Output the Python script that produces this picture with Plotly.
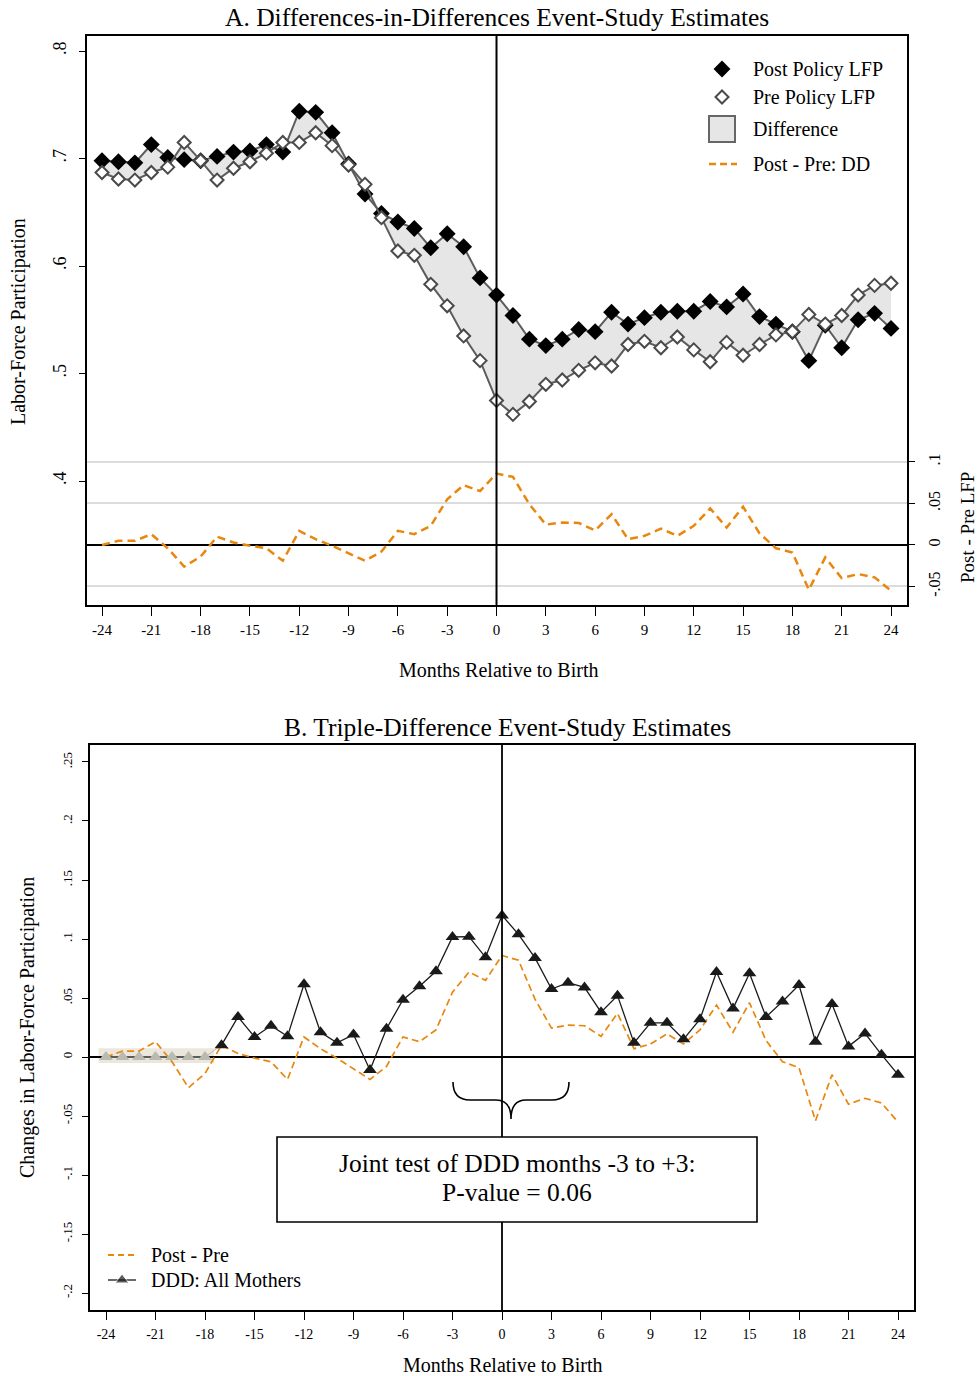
import plotly.graph_objects as go

# ---------------- data ----------------
months = list(range(-24, 25))
month_ticks = list(range(-24, 25, 3))
month_tick_text = [str(m) for m in month_ticks]

post_lfp = [0.698, 0.697, 0.696, 0.713, 0.701, 0.699, 0.698, 0.702, 0.706, 0.707,
            0.713, 0.706, 0.744, 0.743, 0.724, 0.695, 0.667, 0.649, 0.641, 0.635,
            0.617, 0.630, 0.618, 0.589,
            0.573, 0.554, 0.532, 0.526, 0.532, 0.541, 0.539, 0.557, 0.546, 0.552,
            0.557, 0.558, 0.558, 0.567, 0.562, 0.574, 0.553, 0.546, 0.539, 0.512,
            0.545, 0.524, 0.550, 0.556, 0.542]

pre_lfp = [0.687, 0.681, 0.680, 0.687, 0.692, 0.715, 0.698, 0.680, 0.691, 0.697,
           0.705, 0.715, 0.715, 0.724, 0.712, 0.694, 0.676, 0.645, 0.614, 0.610,
           0.583, 0.563, 0.535, 0.512,
           0.475, 0.462, 0.474, 0.490, 0.494, 0.503, 0.510, 0.507, 0.527, 0.530,
           0.524, 0.534, 0.522, 0.511, 0.529, 0.517, 0.527, 0.536, 0.539, 0.555,
           0.546, 0.554, 0.573, 0.582, 0.584]

dd = [0.000, 0.005, 0.005, 0.013, -0.004, -0.026, -0.014, 0.010, 0.003, -0.001,
      -0.004, -0.019, 0.017, 0.007, -0.001, -0.010, -0.019, -0.008, 0.017, 0.013,
      0.023, 0.055, 0.072, 0.065,
      0.086, 0.082, 0.049, 0.0245, 0.027, 0.0265, 0.0175, 0.037, 0.007, 0.011,
      0.0196, 0.011, 0.023, 0.044, 0.021, 0.046, 0.014, -0.004, -0.009, -0.054,
      -0.015, -0.040, -0.035, -0.039, -0.055]

ddd = [0.0, 0.0, 0.0, 0.0, 0.0, 0.0, 0.0, 0.010, 0.034, 0.017,
       0.0265, 0.0175, 0.0616, 0.021, 0.012, 0.019, -0.011, 0.024, 0.0486, 0.060,
       0.0726, 0.1017, 0.102, 0.0845,
       0.120, 0.104, 0.084, 0.0576, 0.063, 0.059, 0.038, 0.052, 0.012, 0.029,
       0.029, 0.015, 0.032, 0.072, 0.041, 0.071, 0.034, 0.047, 0.061, 0.013,
       0.045, 0.009, 0.020, 0.002, -0.015]

n_ref = 7  # reference months (-24..-18) normalised to zero

yA_vals = [0.4, 0.5, 0.6, 0.7, 0.8]
yA_text = [".4", ".5", ".6", ".7", ".8"]
yA2_vals = [-0.05, 0, 0.05, 0.1]
yA2_text = ["-.05", "0", ".05", ".1"]
yB_vals = [-0.2, -0.15, -0.1, -0.05, 0, 0.05, 0.1, 0.15, 0.2, 0.25]
yB_text = ["-.2", "-.15", "-.1", "-.05", "0", ".05", ".1", ".15", ".2", ".25"]

# ---------------- style ----------------
W, H = 977, 1376
FONT = "Liberation Serif, Times New Roman, serif"
ORANGE = "#E8870E"
GRAY_LINE = "#5c5c5c"

def px_x(p):
    return p / W

def px_y(p):
    return 1 - p / H

fig = go.Figure()

# ---- Panel A ----
fig.add_trace(go.Scatter(x=months, y=pre_lfp, mode="lines", line=dict(width=0),
                         showlegend=False, hoverinfo="skip", xaxis="x", yaxis="y"))
fig.add_trace(go.Scatter(x=months, y=post_lfp, mode="lines", line=dict(width=0),
                         fill="tonexty", fillcolor="#e6e6e6",
                         showlegend=False, hoverinfo="skip", xaxis="x", yaxis="y"))
fig.add_trace(go.Scatter(x=months, y=post_lfp, mode="lines+markers",
                         line=dict(color=GRAY_LINE, width=2),
                         marker=dict(symbol="diamond", size=13, color="black",
                                     line=dict(width=0)),
                         showlegend=False, xaxis="x", yaxis="y"))
fig.add_trace(go.Scatter(x=months, y=pre_lfp, mode="lines+markers",
                         line=dict(color=GRAY_LINE, width=2),
                         marker=dict(symbol="diamond", size=10, color="white",
                                     line=dict(width=2, color="#4a4a4a")),
                         showlegend=False, xaxis="x", yaxis="y"))
fig.add_trace(go.Scatter(x=months, y=dd, mode="lines",
                         line=dict(color=ORANGE, width=2.5, dash="8px,5px"),
                         showlegend=False, xaxis="x", yaxis="y2"))

# ---- Panel B ----
fig.add_trace(go.Scatter(x=months, y=dd, mode="lines",
                         line=dict(color=ORANGE, width=1.7, dash="7px,4px"),
                         showlegend=False, xaxis="x2", yaxis="y3"))
fig.add_trace(go.Scatter(x=months[:n_ref + 1], y=ddd[:n_ref + 1], mode="lines+markers",
                         line=dict(color="#b8b8b0", width=1),
                         marker=dict(symbol="triangle-up", size=12,
                                     color=["#b9bab0"] * n_ref + ["rgba(0,0,0,0)"]),
                         showlegend=False, xaxis="x2", yaxis="y3"))
fig.add_trace(go.Scatter(x=months[n_ref:], y=ddd[n_ref:], mode="lines+markers",
                         line=dict(color="#1a1a1a", width=1.3),
                         marker=dict(symbol="triangle-up", size=12, color="#1a1a1a"),
                         showlegend=False, xaxis="x2", yaxis="y3"))

# ---- legend symbols on a full-page pixel overlay axis ----
fig.add_trace(go.Scatter(x=[722], y=[69], mode="markers",
                         marker=dict(symbol="diamond", size=13, color="black"),
                         showlegend=False, xaxis="x3", yaxis="y4"))
fig.add_trace(go.Scatter(x=[722], y=[97], mode="markers",
                         marker=dict(symbol="diamond", size=10, color="white",
                                     line=dict(width=2, color="#4a4a4a")),
                         showlegend=False, xaxis="x3", yaxis="y4"))
fig.add_trace(go.Scatter(x=[108, 122, 136], y=[1280, 1280, 1280], mode="lines+markers",
                         line=dict(color="#1a1a1a", width=1.3),
                         marker=dict(symbol="triangle-up", size=[0, 12, 0], color="#1a1a1a"),
                         showlegend=False, xaxis="x3", yaxis="y4"))

axis_common = dict(showgrid=False, zeroline=False, ticks="outside", tickcolor="black",
                   showline=True, linecolor="black", linewidth=1.5, mirror=True,
                   automargin=False, tickfont=dict(family=FONT, color="black"))

fig.update_layout(
    width=W, height=H, margin=dict(l=0, r=0, t=0, b=0),
    paper_bgcolor="white", plot_bgcolor="rgba(0,0,0,0)",
    template="none", showlegend=False,
    font=dict(family=FONT, color="black"),
    xaxis=dict(axis_common, domain=[px_x(87), px_x(907)], anchor="y",
               range=[-24.913, 24.973], tickvals=month_ticks, ticktext=month_tick_text,
               ticklen=9, ticklabelstandoff=1,
               tickfont=dict(family=FONT, size=15, color="black")),
    yaxis=dict(axis_common, domain=[px_y(605), px_y(36)], anchor="x",
               range=[0.2847, 0.814], tickvals=yA_vals, ticktext=yA_text,
               tickangle=-90, ticklen=6, ticklabelstandoff=6,
               tickfont=dict(family=FONT, size=18, color="black")),
    yaxis2=dict(overlaying="y", side="right", anchor="x", range=[-0.0723, 0.613],
                tickvals=yA2_vals, ticktext=yA2_text, tickangle=-90,
                ticks="outside", ticklen=7, tickcolor="black", showline=False,
                showgrid=True, gridcolor="#dcdcdc", gridwidth=2,
                zeroline=True, zerolinecolor="black", zerolinewidth=1.5,
                automargin=False, ticklabelstandoff=6,
                tickfont=dict(family=FONT, size=16, color="black")),
    xaxis2=dict(axis_common, domain=[px_x(90), px_x(914)], anchor="y3",
                range=[-24.97, 24.97], tickvals=month_ticks, ticktext=month_tick_text,
                ticklen=8, ticklabelstandoff=2,
                tickfont=dict(family=FONT, size=14, color="black")),
    yaxis3=dict(axis_common, domain=[px_y(1310), px_y(745)], anchor="x2",
                range=[-0.2144, 0.2644], tickvals=yB_vals, ticktext=yB_text,
                tickangle=-90, ticklen=6, ticklabelstandoff=5,
                zeroline=True, zerolinecolor="black", zerolinewidth=1.8,
                tickfont=dict(family=FONT, size=13, color="black")),
    xaxis3=dict(domain=[0, 1], range=[0, W], visible=False, anchor="y4", fixedrange=True),
    yaxis4=dict(domain=[0, 1], range=[H, 0], visible=False, anchor="x3", fixedrange=True),
)

shapes = [
    # vertical event lines
    dict(type="line", xref="x", yref="y domain", x0=0, x1=0, y0=0, y1=1,
         line=dict(color="black", width=2)),
    dict(type="line", xref="x2", yref="y3 domain", x0=0, x1=0, y0=0, y1=1,
         line=dict(color="black", width=1.8)),
    # reference-period band in panel B
    dict(type="rect", xref="x2", yref="y3", x0=-24.45, x1=-17.45, y0=-0.005, y1=0.0075,
         fillcolor="#ece7dd", line=dict(width=0), layer="below"),
    # legend A: difference square and dashed line
    dict(type="rect", xref="x3", yref="y4", x0=709, x1=735, y0=116, y1=142,
         fillcolor="#e6e6e6", line=dict(color="#666666", width=2)),
    dict(type="line", xref="x3", yref="y4", x0=709, x1=737, y0=164, y1=164,
         line=dict(color=ORANGE, width=2.5, dash="7px,4px")),
    # legend B: dashed line
    dict(type="line", xref="x3", yref="y4", x0=108, x1=136, y0=1255, y1=1255,
         line=dict(color=ORANGE, width=2, dash="6px,4px")),
    # brace
    dict(type="path", xref="x3", yref="y4",
         path="M 453 1082 Q 453 1100 470 1100 L 496 1100 Q 511 1100 511 1119 "
              "Q 511 1100 526 1100 L 552 1100 Q 569 1100 569 1082",
         line=dict(color="black", width=1.6)),
    # joint-test box
    dict(type="rect", xref="x3", yref="y4", x0=277, x1=757, y0=1137, y1=1222,
         fillcolor="white", line=dict(color="black", width=1.6)),
]
fig.update_layout(shapes=shapes)

def ann(x, y, text, size, xanchor="center", angle=0):
    return dict(xref="x3", yref="y4", x=x, y=y, text=text, showarrow=False,
                xanchor=xanchor, yanchor="middle", textangle=angle,
                font=dict(family=FONT, size=size, color="black"))

annotations = [
    ann(497, 17, "A. Differences-in-Differences Event-Study Estimates", 25.5),
    ann(507, 727, "B. Triple-Difference Event-Study Estimates", 25.5),
    ann(498, 670, "Months Relative to Birth", 20),
    ann(502, 1365, "Months Relative to Birth", 20),
    ann(18, 322, "Labor-Force Participation", 20, angle=-90),
    ann(967, 528, "Post - Pre LFP", 19, angle=-90),
    ann(27, 1028, "Changes in Labor-Force Participation", 20, angle=-90),
    ann(751, 69, "Post Policy LFP", 20, "left"),
    ann(751, 97, "Pre Policy LFP", 20, "left"),
    ann(751, 129, "Difference", 20, "left"),
    ann(751, 164, "Post - Pre: DD", 20, "left"),
    ann(149, 1255, "Post - Pre", 20, "left"),
    ann(149, 1280, "DDD: All Mothers", 20, "left"),
    ann(517, 1163, "Joint test of DDD months -3 to +3:", 25.5),
    ann(517, 1192, "P-value = 0.06", 25.5),
]
fig.update_layout(annotations=annotations)

fig.write_html("out.html")
